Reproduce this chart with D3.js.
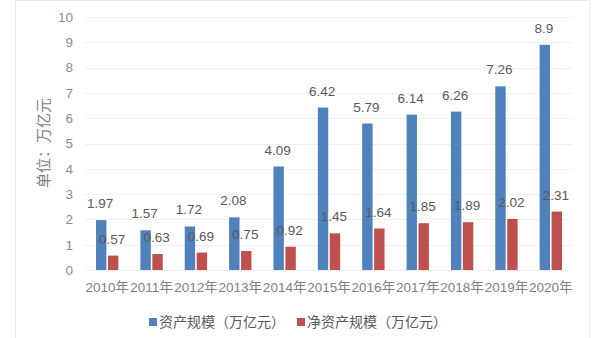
<!DOCTYPE html>
<html>
<head>
<meta charset="utf-8">
<script src="https://cdn.jsdelivr.net/npm/d3@7/dist/d3.min.js"></script>
<style>
  html, body { margin: 0; padding: 0; background: #fff; }
  svg { display: block; font-family: "Liberation Sans", "Noto Sans CJK SC", sans-serif; }
</style>
</head>
<body>
<svg id="chart" width="603" height="338"></svg>
<script>
// Fund scale by year, in trillion yuan
const years = ["2010年", "2011年", "2012年", "2013年", "2014年", "2015年", "2016年", "2017年", "2018年", "2019年", "2020年"];
const totalAssets = [1.97, 1.57, 1.72, 2.08, 4.09, 6.42, 5.79, 6.14, 6.26, 7.26, 8.9];
const netAssets = [0.57, 0.63, 0.69, 0.75, 0.92, 1.45, 1.64, 1.85, 1.89, 2.02, 2.31];
const seriesNames = ["资产规模（万亿元）", "净资产规模（万亿元）"];
const yTicks = [0, 1, 2, 3, 4, 5, 6, 7, 8, 9, 10];
const yTitle = "单位：万亿元";

const colors = ["#4f81bd", "#c0504d"];
const svg = d3.select("#chart");

// outer chart frame
svg.append("rect")
  .attr("x", 15.5).attr("y", 0.5).attr("width", 574).attr("height", 345)
  .attr("fill", "none").attr("stroke", "#ececec");

const plot = { left: 85, right: 573, top: 17, bottom: 270 };

const x = d3.scaleBand().domain(years).range([plot.left, plot.right]).paddingInner(0).paddingOuter(0);
const y = d3.scaleLinear().domain([0, 10]).range([plot.bottom, plot.top]);
const inner = d3.scaleBand().domain([0, 1]).range([0, x.bandwidth()]).paddingInner(0.13).paddingOuter(0.92);

// horizontal grid
svg.append("g").selectAll("line").data(yTicks).join("line")
  .attr("x1", plot.left).attr("x2", plot.right)
  .attr("y1", d => Math.round(y(d)) + 0.5).attr("y2", d => Math.round(y(d)) + 0.5)
  .attr("stroke", "#f0f0f0");

// y axis labels
const yAxis = d3.axisLeft(y).tickValues(yTicks).tickSize(0).tickPadding(0).tickFormat(d3.format("d"));
svg.append("g").attr("transform", `translate(${plot.left - 12},0)`).call(yAxis)
  .call(g => g.select(".domain").remove())
  .call(g => g.selectAll("text").attr("fill", "#8c8c8c").attr("font-size", 13.5)
    .attr("font-family", "Liberation Sans, sans-serif"));

// x axis labels
const xAxis = d3.axisBottom(x).tickSize(0).tickPadding(0);
svg.append("g").attr("transform", `translate(0,${plot.bottom + 12})`).call(xAxis)
  .call(g => g.select(".domain").remove())
  .call(g => g.selectAll("text").attr("fill", "#808080").attr("font-size", 13.5)
    .attr("font-family", "Liberation Sans, Noto Sans CJK SC, sans-serif"));

// y title
svg.append("text")
  .attr("transform", `translate(49,143) rotate(-90)`)
  .attr("text-anchor", "middle")
  .attr("fill", "#808080").attr("font-size", 15)
  .attr("font-family", "Noto Sans CJK SC, sans-serif")
  .text(yTitle);

const series = [totalAssets, netAssets];

// bars
series.forEach((vals, si) => {
  svg.append("g").selectAll("rect").data(vals).join("rect")
    .attr("x", (d, i) => x(years[i]) + inner(si))
    .attr("width", inner.bandwidth())
    .attr("y", d => y(d))
    .attr("height", d => y(0) - y(d))
    .attr("fill", colors[si]);
});

// value labels
series.forEach((vals, si) => {
  svg.append("g").selectAll("text").data(vals).join("text")
    .attr("x", (d, i) => x(years[i]) + inner(si) + inner.bandwidth() / 2 - 1)
    .attr("y", d => y(d) - 12)
    .attr("text-anchor", "middle")
    .attr("fill", "#595959")
    .attr("font-size", 13.5)
    .attr("font-family", "Liberation Sans, sans-serif")
    .text(d => d);
});

// legend
const legend = svg.append("g").attr("transform", "translate(149,322)");
const legendX = [0, 148];
seriesNames.forEach((name, i) => {
  const g = legend.append("g").attr("transform", `translate(${legendX[i]},0)`);
  g.append("rect").attr("x", 0).attr("y", -4).attr("width", 8).attr("height", 8).attr("fill", colors[i]);
  g.append("text").attr("x", 10).attr("y", 0).attr("dy", "0.35em")
    .attr("fill", "#595959").attr("font-size", 14)
    .attr("font-family", "Noto Sans CJK SC, sans-serif")
    .text(name);
});
</script>
</body>
</html>
